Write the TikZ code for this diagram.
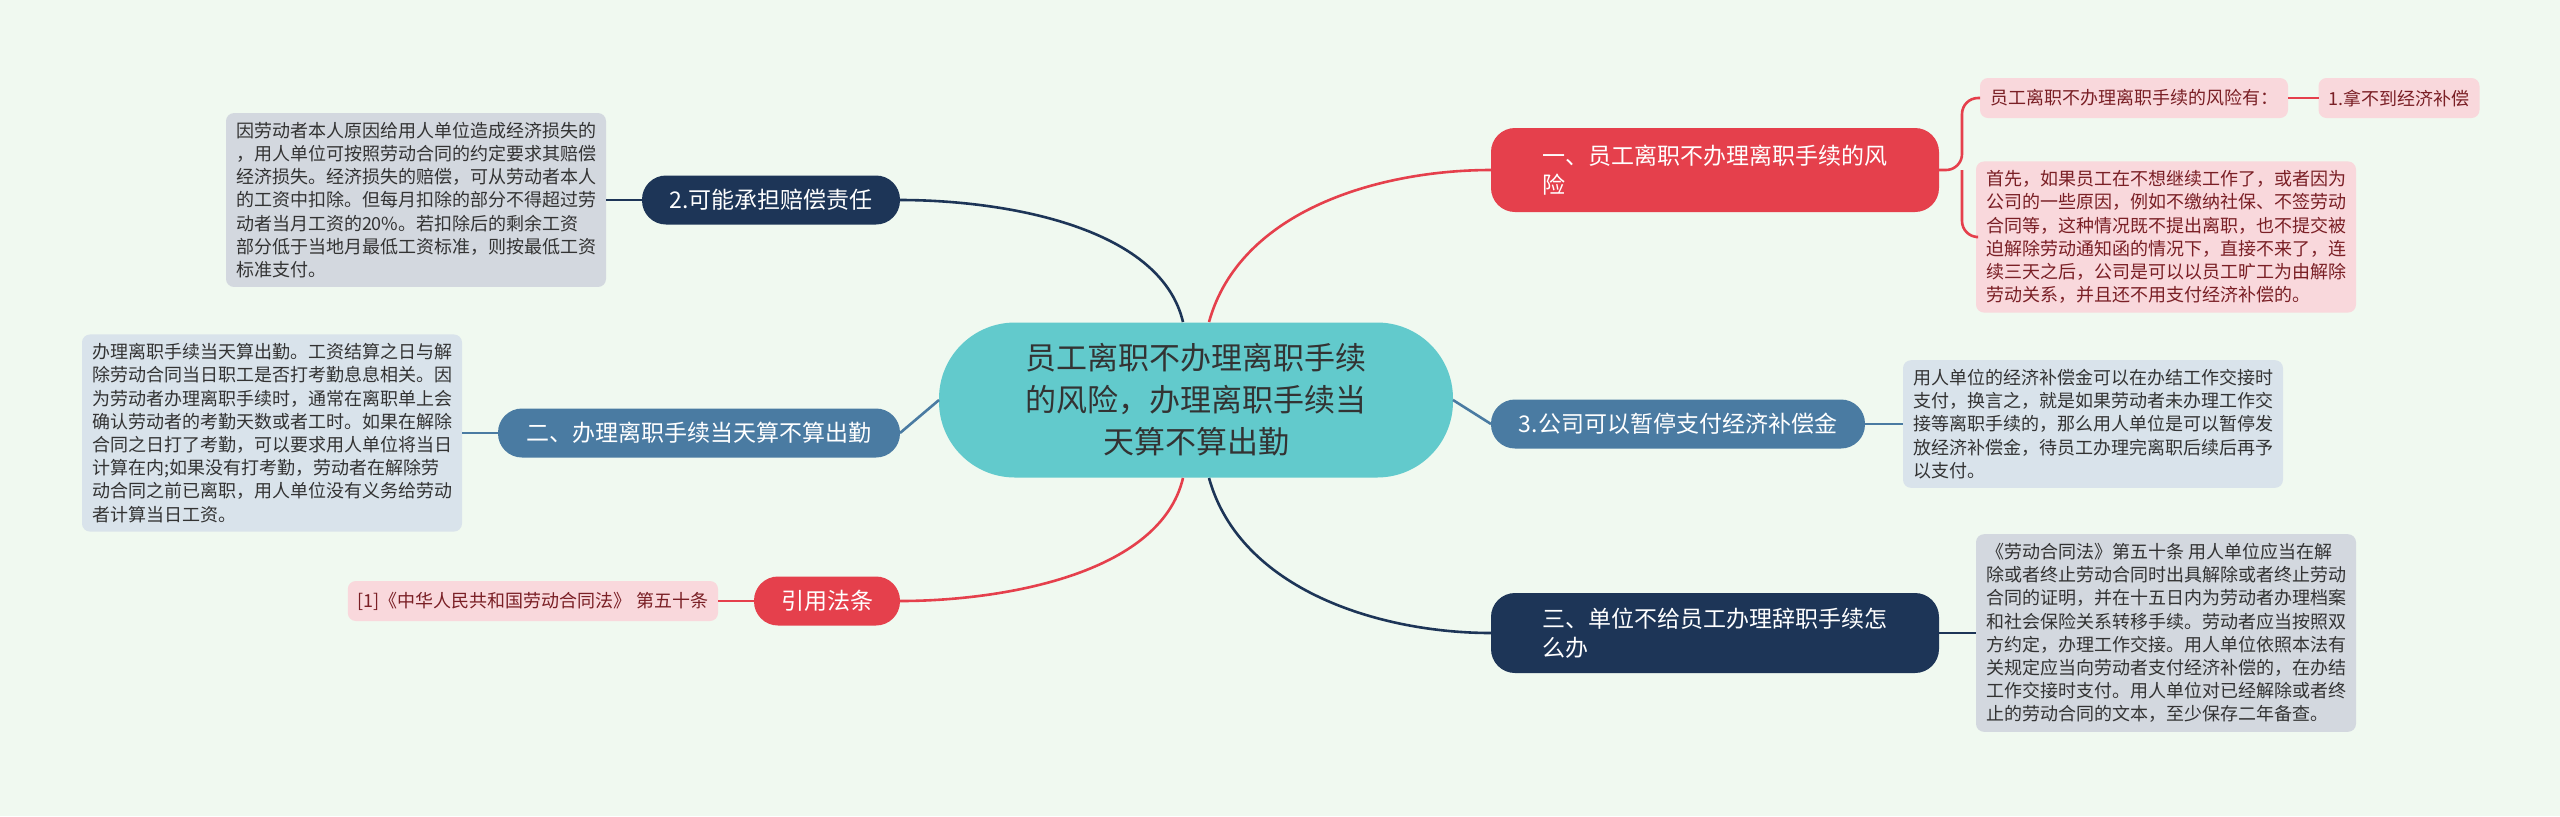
\documentclass[tikz,border=0pt]{standalone}
\usepackage{fontspec}
\setmainfont{Noto Sans CJK SC}
\begin{document}
\begin{tikzpicture}[x=0.5pt,y=-0.5pt,
  every node/.style={inner sep=0pt, outer sep=0pt},
  branch/.style={rounded corners=12pt, font=\fontsize{11.5}{14.5}\selectfont, text=white, align=left, minimum height=24.5pt},
  leaf/.style={rounded corners=4pt, font=\fontsize{9.0}{11.6}\selectfont, align=left, inner xsep=5pt, inner ysep=4.5pt},
  conn/.style={line width=1.3pt}]
\definecolor{bg}{HTML}{F0F9F0}
\definecolor{teal}{HTML}{62CACC}
\definecolor{red}{HTML}{E5404C}
\definecolor{pink}{HTML}{F9D8DC}
\definecolor{pinktext}{HTML}{7A1F25}
\definecolor{blue}{HTML}{4A7BA2}
\definecolor{navy}{HTML}{1D3557}
\definecolor{gray}{HTML}{D3D8DF}
\definecolor{lblue}{HTML}{D9E3EB}
\fill[bg] (0,0) rectangle (2560,816);
\useasboundingbox (0,0) rectangle (2560,816);

\node[fill=teal, rounded corners=38pt, minimum width=257pt, minimum height=77.5pt, align=center,
  font=\fontsize{15.5}{21}\selectfont, text=black!80] (c) at (1196,400)
  {员工离职不办理离职手续\\的风险，办理离职手续当\\天算不算出勤};

% branches
\node[branch, fill=red, minimum width=224pt, minimum height=42pt, inner xsep=14pt] (r1) at (1715,170)
  {一、员工离职不办理离职手续的风\\险};
\node[branch, fill=blue, minimum width=187pt, inner xsep=8pt] (r2) at (1678,424) {3.公司可以暂停支付经济补偿金};
\node[branch, fill=navy, minimum width=224pt, minimum height=40pt, inner xsep=14pt] (r3) at (1715,633)
  {三、单位不给员工办理辞职手续怎\\么办};
\node[branch, fill=navy, minimum width=129pt, align=center] (l1) at (771,200) {2.可能承担赔偿责任};
\node[branch, fill=blue, minimum width=201pt, align=center] (l2) at (699,433) {二、办理离职手续当天算不算出勤};
\node[branch, fill=red, minimum width=73pt, align=center] (l3) at (827,601) {引用法条};

% leaves
\node[leaf, fill=pink, text=pinktext, minimum height=20pt] (r1a) at (2134,98) {员工离职不办理离职手续的风险有：};
\node[leaf, fill=pink, text=pinktext, minimum height=20pt] (r1b) at (2399,98) {1.拿不到经济补偿};
\node[leaf, fill=pink, text=pinktext, anchor=west] (r1c) at (1976,237)
  {首先，如果员工在不想继续工作了，或者因为\\公司的一些原因，例如不缴纳社保、不签劳动\\合同等，这种情况既不提出离职，也不提交被\\迫解除劳动通知函的情况下，直接不来了，连\\续三天之后，公司是可以以员工旷工为由解除\\劳动关系，并且还不用支付经济补偿的。};
\node[leaf, fill=lblue, text=black!80, anchor=west] (r2a) at (1903,424)
  {用人单位的经济补偿金可以在办结工作交接时\\支付，换言之，就是如果劳动者未办理工作交\\接等离职手续的，那么用人单位是可以暂停发\\放经济补偿金，待员工办理完离职后续后再予\\以支付。};
\node[leaf, fill=gray, text=black!80, anchor=west] (r3a) at (1976,633)
  {《劳动合同法》第五十条 用人单位应当在解\\除或者终止劳动合同时出具解除或者终止劳动\\合同的证明，并在十五日内为劳动者办理档案\\和社会保险关系转移手续。劳动者应当按照双\\方约定，办理工作交接。用人单位依照本法有\\关规定应当向劳动者支付经济补偿的，在办结\\工作交接时支付。用人单位对已经解除或者终\\止的劳动合同的文本，至少保存二年备查。};
\node[leaf, fill=gray, text=black!80, anchor=east] (l1a) at (606,200)
  {因劳动者本人原因给用人单位造成经济损失的\\，用人单位可按照劳动合同的约定要求其赔偿\\经济损失。经济损失的赔偿，可从劳动者本人\\的工资中扣除。但每月扣除的部分不得超过劳\\动者当月工资的20\%。若扣除后的剩余工资\\部分低于当地月最低工资标准，则按最低工资\\标准支付。};
\node[leaf, fill=lblue, text=black!80, anchor=east] (l2a) at (462,433)
  {办理离职手续当天算出勤。工资结算之日与解\\除劳动合同当日职工是否打考勤息息相关。因\\为劳动者办理离职手续时，通常在离职单上会\\确认劳动者的考勤天数或者工时。如果在解除\\合同之日打了考勤，可以要求用人单位将当日\\计算在内;如果没有打考勤，劳动者在解除劳\\动合同之前已离职，用人单位没有义务给劳动\\者计算当日工资。};
\node[leaf, fill=pink, text=pinktext, anchor=east, minimum height=20pt] (l3a) at (718,601)
  {[1]《中华人民共和国劳动合同法》 第五十条};

% center connectors
\coordinate (ct1) at (1183,322);
\coordinate (ct2) at (1209,322);
\coordinate (cb1) at (1183,478);
\coordinate (cb2) at (1209,478);
\draw[conn, navy] (ct1) .. controls (1160,225) and (1000,200) .. (l1.east);
\draw[conn, red] (ct2) .. controls (1240,210) and (1380,170) .. (r1.west);
\draw[conn, blue] (c.east) -- (r2.west);
\draw[conn, blue] (c.west) -- (l2.east);
\draw[conn, red] (cb1) .. controls (1160,575) and (1000,601) .. (l3.east);
\draw[conn, navy] (cb2) .. controls (1240,590) and (1380,633) .. (r3.west);

% leaf connectors
\draw[conn, navy] (l1.west) -- (l1a.east);
\draw[conn, blue] (l2.west) -- (l2a.east);
\draw[conn, red] (l3.west) -- (l3a.east);
\draw[conn, blue] (r2.east) -- (r2a.west);
\draw[conn, navy] (r3.east) -- (r3a.west);
\draw[conn, red] (r1a.east) -- (r1b.west);
\coordinate (br) at (1962,170);
\draw[conn, red, rounded corners=8pt] (r1.east) -- (br) |- (r1a.west);
\draw[conn, red, rounded corners=8pt] (br) |- (r1c.west);
\end{tikzpicture}
\end{document}
